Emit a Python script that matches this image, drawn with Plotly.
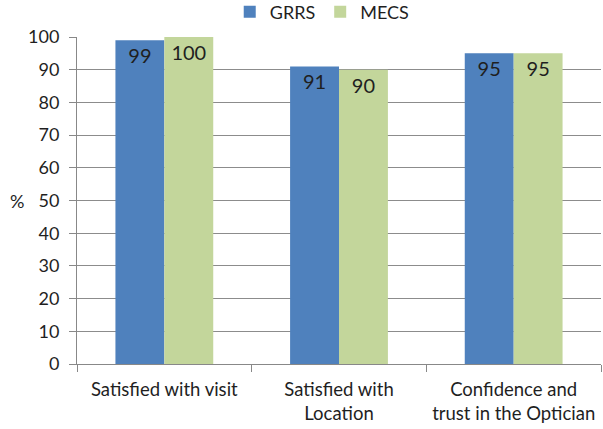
import plotly.graph_objects as go

categories = ["Satisfied with visit", "Satisfied with<br>Location", "Confidence and<br>trust in the Optician"]
grrs = [99, 91, 95]
mecs = [100, 90, 95]
y_ticks = [0, 10, 20, 30, 40, 50, 60, 70, 80, 90, 100]

FONT = "Lato"
TXT = "#1f1f1f"
fig = go.Figure()
for name, vals, col in [("GRRS", grrs, "#4F81BD"), ("MECS", mecs, "#C3D69B")]:
    fig.add_trace(go.Bar(name=name, x=categories, y=vals, marker_color=col,
                         marker_line_width=0,
                         text=vals, textposition="inside", insidetextanchor="end",
                         textfont=dict(color=TXT, size=20, family=FONT)))

fig.update_layout(
    width=603, height=429,
    margin=dict(l=77, r=2, t=37, b=65, autoexpand=False),
    paper_bgcolor="white", plot_bgcolor="white",
    barmode="group", bargap=0.44, bargroupgap=0,
    font=dict(family=FONT, size=18, color=TXT),
    uniformtext=dict(minsize=10, mode="show"),
    legend=dict(orientation="h", x=0.468, xanchor="center", yref="container",
                y=0.972, yanchor="middle",
                font=dict(size=18), itemwidth=30, traceorder="normal",
                bgcolor="rgba(0,0,0,0)"),
    xaxis=dict(showline=True, linecolor="#888", linewidth=1, automargin=False,
               ticks="outside", tickson="boundaries", ticklen=7, tickcolor="#888",
               tickfont=dict(size=18.5), ticklabelstandoff=9),
    yaxis=dict(range=[0, 100], tickvals=y_ticks, showgrid=True, gridcolor="#8c8c8c",
               gridwidth=1, showline=True, linecolor="#888", ticks="outside",
               ticklen=7, tickcolor="#888", tickfont=dict(size=18), zeroline=False,
               automargin=False, ticklabelstandoff=6),
)
fig.add_annotation(text="%", xref="paper", yref="paper", x=-0.132, y=0.5,
                   showarrow=False, font=dict(size=18), xanchor="left")
fig.write_html("out.html", config={"displayModeBar": False},
               post_script="document.body.style.margin='0';")
